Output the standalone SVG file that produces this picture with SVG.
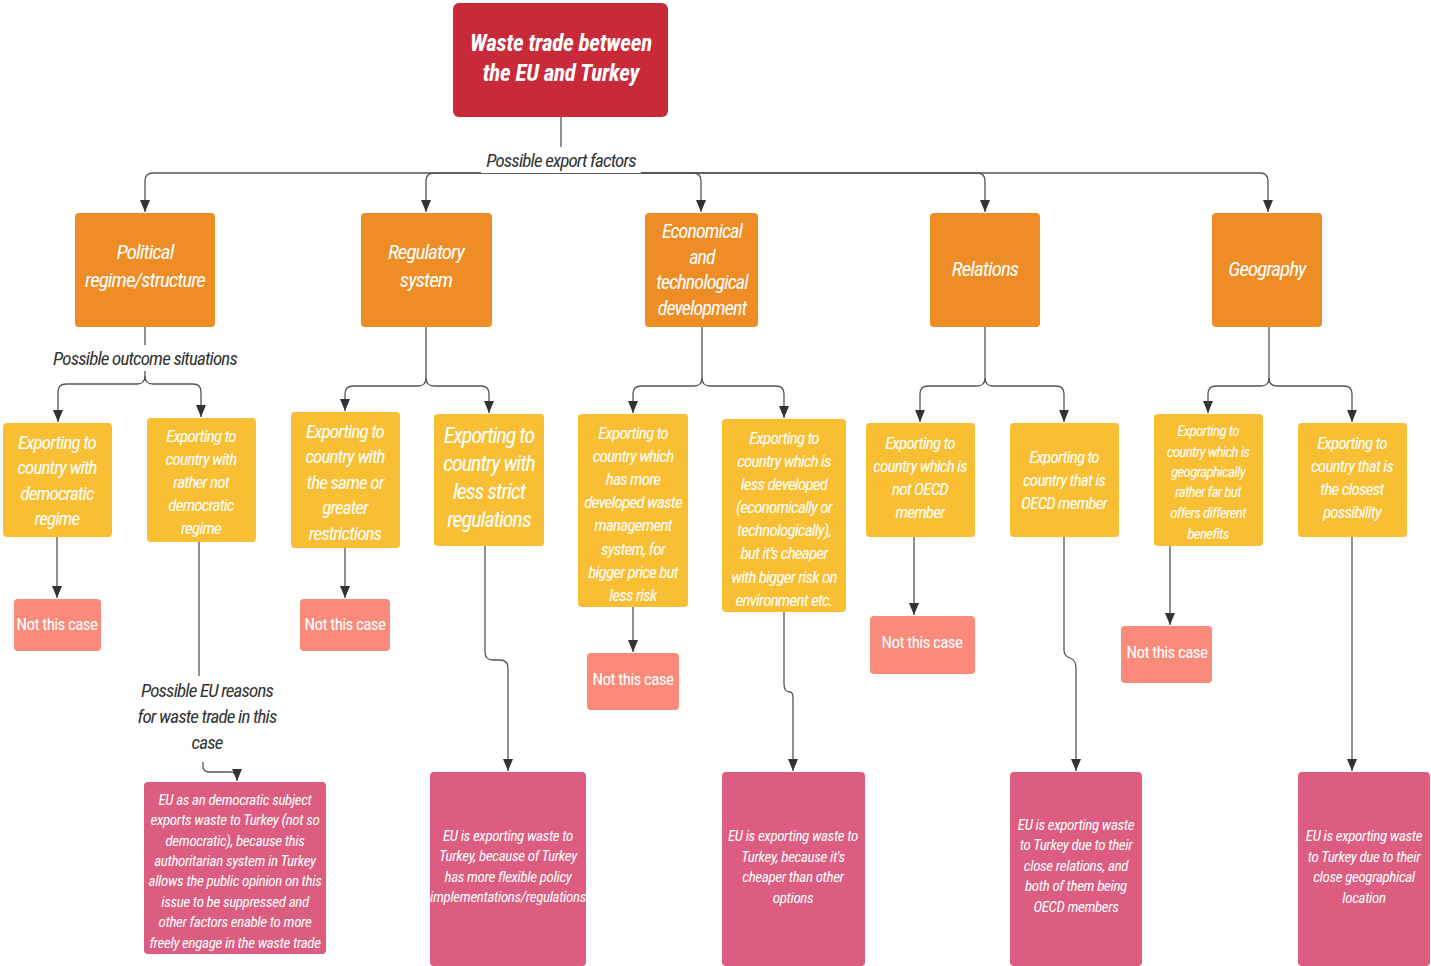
<svg xmlns="http://www.w3.org/2000/svg" width="1431" height="966" viewBox="0 0 1431 966">
<defs>
<marker id="arr" markerUnits="userSpaceOnUse" markerWidth="13" markerHeight="10" refX="12" refY="5" orient="auto">
<path d="M0,0 L12,5 L0,10 z" fill="#333"/>
</marker>
<style>
text{font-family:"Liberation Sans Narrow","Roboto Condensed",Roboto,"Liberation Sans",sans-serif;font-style:italic;text-anchor:middle;fill:#fff;letter-spacing:-0.045em}
.root rect{fill:#c92a39}
.root text{font-size:23px;font-weight:bold;letter-spacing:-0.01em}
.cat rect{fill:#ee8d25}
.cat text{font-size:21px}
.opt rect{fill:#f8bf35}
.no rect{fill:#fa8b7b}
.no text{font-size:17px;font-style:normal;letter-spacing:-0.035em}
.res rect{fill:#dc5d80}
.res text{font-size:15px;letter-spacing:-0.025em}
.lbl{fill:#333;font-size:19px}
.bg{fill:#fff}
#connectors path{fill:none;stroke:#555;stroke-width:1.3}
#connectors path.a{marker-end:url(#arr)}
</style>
</defs>
<rect width="1431" height="966" fill="#fff"/>

<g id="connectors">
<path class="a" d="M561,117 V173 H153 Q145,173 145,181 V212"/>
<path class="a" d="M561,173 H434 Q426,173 426,181 V212"/>
<path class="a" d="M561,173 H693 Q701,173 701,181 V212"/>
<path class="a" d="M561,173 H977 Q985,173 985,181 V212"/>
<path class="a" d="M561,173 H1260 Q1268,173 1268,181 V212"/>
<path class="a" d="M145,327 V376 Q145,384 137,384 H66 Q58,384 58,392 V422"/>
<path class="a" d="M145,376 Q145,384 153,384 H193 Q201,384 201,392 V417"/>
<path class="a" d="M426,327 V378 Q426,386 418,386 H353 Q345,386 345,394 V411"/>
<path class="a" d="M426,378 Q426,386 434,386 H481 Q489,386 489,394 V413"/>
<path class="a" d="M702,327 V378 Q702,386 694,386 H641 Q633,386 633,394 V413"/>
<path class="a" d="M702,378 Q702,386 710,386 H776 Q784,386 784,394 V418"/>
<path class="a" d="M985,327 V378 Q985,386 977,386 H928 Q920,386 920,394 V422"/>
<path class="a" d="M985,378 Q985,386 993,386 H1056 Q1064,386 1064,394 V422"/>
<path class="a" d="M1269,327 V378 Q1269,386 1261,386 H1216 Q1208,386 1208,394 V413"/>
<path class="a" d="M1269,378 Q1269,386 1277,386 H1344 Q1352,386 1352,394 V422"/>
<path class="a" d="M57,537 V598"/>
<path class="a" d="M345,548 V598"/>
<path class="a" d="M633,607 V652"/>
<path class="a" d="M914,537 V615"/>
<path class="a" d="M1170,546 V625"/>
<path d="M199,542 V676"/>
<path class="a" d="M203,762 V766 Q203,772 209,772 H230 Q237,772 237,778 V781"/>
<path class="a" d="M485,546 V652 Q485,660 493,660 H500 Q508,660 508,668 V771"/>
<path class="a" d="M784,612 V684 Q784,692 790,692 Q793,692 793,698 V771"/>
<path class="a" d="M1064,537 V650 Q1064,656 1070,658 Q1076,660 1076,668 V771"/>
<path class="a" d="M1352,537 V771"/>
</g>

<g id="label-export"><rect class="bg" x="481" y="147" width="160" height="26"/><text class="lbl" x="561" y="167">Possible export factors</text></g>
<g id="label-outcome"><rect class="bg" x="48" y="345" width="195" height="26"/><text class="lbl" x="145" y="365">Possible outcome situations</text></g>
<g id="label-reasons"><text class="lbl"><tspan x="207" y="697">Possible EU reasons</tspan><tspan x="207" y="723">for waste trade in this</tspan><tspan x="207" y="749">case</tspan></text></g>

<g id="root" class="root"><rect x="453" y="3" width="215" height="114" rx="6"/><text><tspan x="561" y="51">Waste trade between</tspan><tspan x="561" y="81">the EU and Turkey</tspan></text></g>

<g id="political" class="cat"><rect x="75" y="213" width="140" height="114" rx="4"/><text><tspan x="145" y="259">Political</tspan><tspan x="145" y="287">regime/structure</tspan></text></g>
<g id="regulatory" class="cat"><rect x="361" y="213" width="131" height="114" rx="4"/><text><tspan x="426" y="259">Regulatory</tspan><tspan x="426" y="287">system</tspan></text></g>
<g id="economical" class="cat"><rect x="645" y="213" width="113" height="114" rx="4"/><text style="font-size:20px"><tspan x="702" y="238">Economical</tspan><tspan x="702" y="264">and</tspan><tspan x="702" y="289">technological</tspan><tspan x="702" y="315">development</tspan></text></g>
<g id="relations" class="cat"><rect x="930" y="213" width="110" height="114" rx="4"/><text><tspan x="985" y="276">Relations</tspan></text></g>
<g id="geography" class="cat"><rect x="1212" y="213" width="110" height="114" rx="4"/><text><tspan x="1267" y="276">Geography</tspan></text></g>

<g id="opt-democratic" class="opt"><rect x="3" y="423" width="109" height="114" rx="4"/><text style="font-size:19px"><tspan x="57" y="449">Exporting to</tspan><tspan x="57" y="474">country with</tspan><tspan x="57" y="500">democratic</tspan><tspan x="57" y="525">regime</tspan></text></g>
<g id="opt-notdemocratic" class="opt"><rect x="147" y="418" width="109" height="124" rx="4"/><text style="font-size:17px"><tspan x="201" y="442">Exporting to</tspan><tspan x="201" y="465">country with</tspan><tspan x="201" y="488">rather not</tspan><tspan x="201" y="511">democratic</tspan><tspan x="201" y="534">regime</tspan></text></g>
<g id="opt-same" class="opt"><rect x="291" y="412" width="109" height="136" rx="4"/><text style="font-size:19px"><tspan x="345" y="438">Exporting to</tspan><tspan x="345" y="463">country with</tspan><tspan x="345" y="489">the same or</tspan><tspan x="345" y="514">greater</tspan><tspan x="345" y="540">restrictions</tspan></text></g>
<g id="opt-lessstrict" class="opt"><rect x="434" y="414" width="110" height="132" rx="4"/><text style="font-size:22px"><tspan x="489" y="443">Exporting to</tspan><tspan x="489" y="471">country with</tspan><tspan x="489" y="499">less strict</tspan><tspan x="489" y="527">regulations</tspan></text></g>
<g id="opt-moredeveloped" class="opt"><rect x="578" y="414" width="110" height="193" rx="4"/><text style="font-size:17px"><tspan x="633" y="439">Exporting to</tspan><tspan x="633" y="462">country which</tspan><tspan x="633" y="485">has more</tspan><tspan x="633" y="508">developed waste</tspan><tspan x="633" y="531">management</tspan><tspan x="633" y="555">system, for</tspan><tspan x="633" y="578">bigger price but</tspan><tspan x="633" y="601">less risk</tspan></text></g>
<g id="opt-lessdeveloped" class="opt"><rect x="722" y="419" width="124" height="193" rx="4"/><text style="font-size:17px"><tspan x="784" y="444">Exporting to</tspan><tspan x="784" y="467">country which is</tspan><tspan x="784" y="490">less developed</tspan><tspan x="784" y="513">(economically or</tspan><tspan x="784" y="536">technologically),</tspan><tspan x="784" y="559">but it’s cheaper</tspan><tspan x="784" y="583">with bigger risk on</tspan><tspan x="784" y="606">environment etc.</tspan></text></g>
<g id="opt-notoecd" class="opt"><rect x="866" y="423" width="109" height="114" rx="4"/><text style="font-size:17px"><tspan x="920" y="449">Exporting to</tspan><tspan x="920" y="472">country which is</tspan><tspan x="920" y="495">not OECD</tspan><tspan x="920" y="518">member</tspan></text></g>
<g id="opt-oecd" class="opt"><rect x="1010" y="423" width="109" height="114" rx="4"/><text style="font-size:17px"><tspan x="1064" y="463">Exporting to</tspan><tspan x="1064" y="486">country that is</tspan><tspan x="1064" y="509">OECD member</tspan></text></g>
<g id="opt-far" class="opt"><rect x="1154" y="414" width="109" height="132" rx="4"/><text style="font-size:15px"><tspan x="1208" y="436">Exporting to</tspan><tspan x="1208" y="457">country which is</tspan><tspan x="1208" y="477">geographically</tspan><tspan x="1208" y="497">rather far but</tspan><tspan x="1208" y="518">offers different</tspan><tspan x="1208" y="539">benefits</tspan></text></g>
<g id="opt-closest" class="opt"><rect x="1298" y="423" width="109" height="114" rx="4"/><text style="font-size:17px"><tspan x="1352" y="449">Exporting to</tspan><tspan x="1352" y="472">country that is</tspan><tspan x="1352" y="495">the closest</tspan><tspan x="1352" y="518">possibility</tspan></text></g>

<g id="no1" class="no"><rect x="14" y="599" width="87" height="52" rx="4"/><text x="57" y="630">Not this case</text></g>
<g id="no2" class="no"><rect x="300" y="599" width="90" height="52" rx="4"/><text x="345" y="630">Not this case</text></g>
<g id="no3" class="no"><rect x="587" y="653" width="92" height="57" rx="4"/><text x="633" y="685">Not this case</text></g>
<g id="no4" class="no"><rect x="870" y="616" width="105" height="58" rx="4"/><text x="922" y="648">Not this case</text></g>
<g id="no5" class="no"><rect x="1121" y="626" width="91" height="57" rx="4"/><text x="1167" y="658">Not this case</text></g>

<g id="res-political" class="res"><rect x="144" y="782" width="182" height="172" rx="4"/><text><tspan x="235" y="805">EU as an democratic subject</tspan><tspan x="235" y="825">exports waste to Turkey (not so</tspan><tspan x="235" y="846">democratic), because this</tspan><tspan x="235" y="866">authoritarian system in Turkey</tspan><tspan x="235" y="886">allows the public opinion on this</tspan><tspan x="235" y="907">issue to be suppressed and</tspan><tspan x="235" y="927">other factors enable to more</tspan><tspan x="235" y="948">freely engage in the waste trade</tspan></text></g>
<g id="res-regulatory" class="res"><rect x="430" y="772" width="156" height="194" rx="4"/><text><tspan x="508" y="841">EU is exporting waste to</tspan><tspan x="508" y="861">Turkey, because of Turkey</tspan><tspan x="508" y="882">has more flexible policy</tspan><tspan x="508" y="902">implementations/regulations</tspan></text></g>
<g id="res-economical" class="res"><rect x="722" y="772" width="143" height="194" rx="4"/><text><tspan x="793" y="841">EU is exporting waste to</tspan><tspan x="793" y="862">Turkey, because it's</tspan><tspan x="793" y="882">cheaper than other</tspan><tspan x="793" y="903">options</tspan></text></g>
<g id="res-relations" class="res"><rect x="1010" y="772" width="132" height="194" rx="4"/><text><tspan x="1076" y="830">EU is exporting waste</tspan><tspan x="1076" y="850">to Turkey due to their</tspan><tspan x="1076" y="871">close relations, and</tspan><tspan x="1076" y="891">both of them being</tspan><tspan x="1076" y="912">OECD members</tspan></text></g>
<g id="res-geography" class="res"><rect x="1298" y="772" width="132" height="194" rx="4"/><text><tspan x="1364" y="841">EU is exporting waste</tspan><tspan x="1364" y="862">to Turkey due to their</tspan><tspan x="1364" y="882">close geographical</tspan><tspan x="1364" y="903">location</tspan></text></g>
</svg>
